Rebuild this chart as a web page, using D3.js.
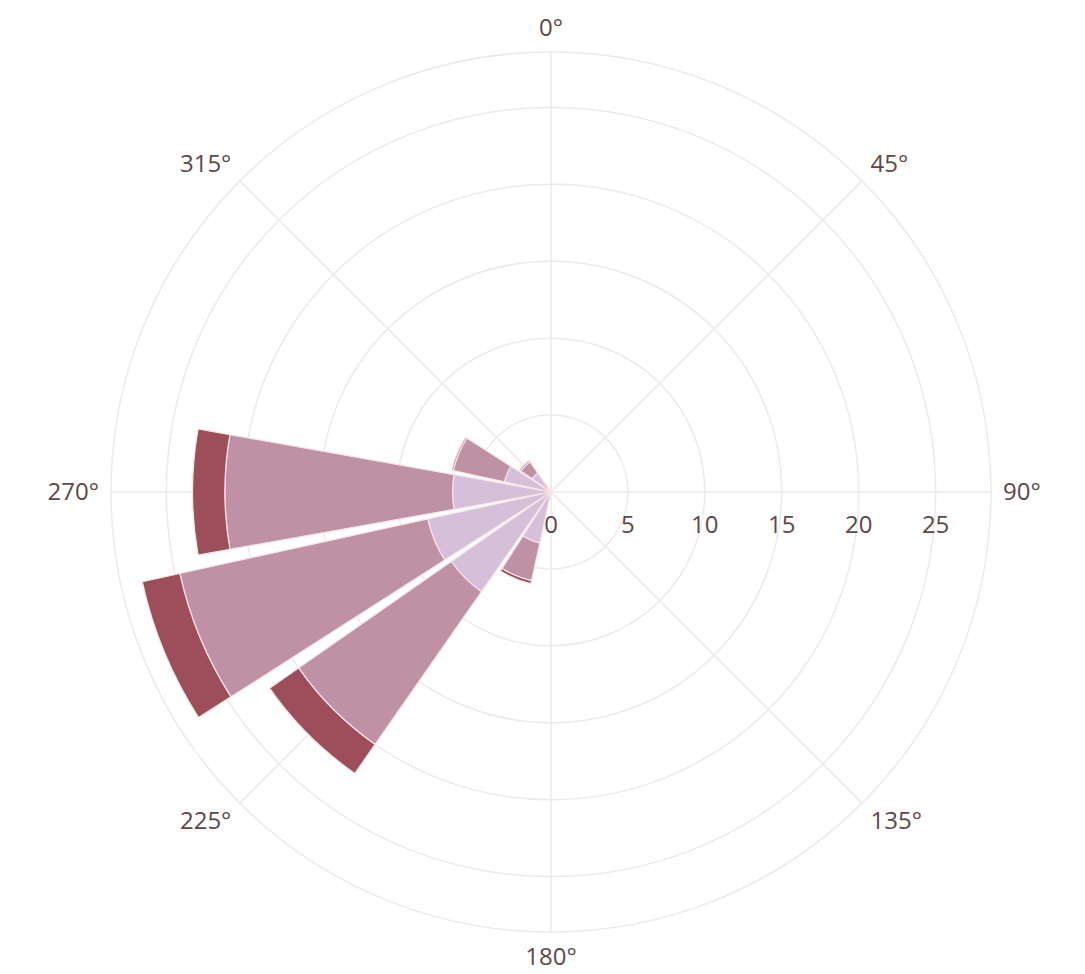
<!DOCTYPE html>
<html>
<head>
<meta charset="utf-8">
<script src="https://cdn.jsdelivr.net/npm/d3@7"></script>
<style>
  body { margin: 0; background: #fff; }
  svg { display: block; font-family: "Open Sans", sans-serif; }
</style>
</head>
<body>
<svg></svg>
<script>
// compass directions (degrees, clockwise from north)
var directions = [0, 22.5, 45, 67.5, 90, 112.5, 135, 157.5, 180, 202.5, 225, 247.5, 270, 292.5, 315, 337.5];

// stacked series, inner to outer
var seriesLight = [0, 0, 0, 0, 0, 0, 0, 0, 0, 3.4, 7.9, 8.2, 6.4, 3.1, 1.5, 0];
var seriesMid   = [0, 0, 0, 0, 0, 0, 0, 0, 0, 2.5, 12.1, 16.5, 14.8, 3.4, 0.9, 0];
var seriesDark  = [0, 0, 0, 0, 0, 0, 0, 0, 0, 0.2, 2.3, 2.5, 2.1, 0.1, 0.1, 0];
var seriesNames = ["light", "mid", "dark"];
var seriesColors = ["#d6bfd8", "#be91a5", "#9c4f5b"];

var radialTicks = [0, 5, 10, 15, 20, 25];
var angularTicks = [0, 45, 90, 135, 180, 225, 270, 315];
var radialMax = 28.6;

var width = 1085, height = 974;
var cx = 551, cy = 492, outerR = 440;
var barGap = 0.1;
var fontSize = 24;

var svg = d3.select("svg")
    .attr("width", width)
    .attr("height", height);

var g = svg.append("g")
    .attr("transform", `translate(${cx},${cy})`);

var r = d3.scaleLinear()
    .domain([0, radialMax])
    .range([0, outerR]);

var gridColor = "#ede9ea";
var textColor = "#5e4848";

// circular grid
g.selectAll(".ring")
    .data(radialTicks.filter(d => d > 0).concat([radialMax]))
    .enter().append("circle")
    .attr("class", "ring")
    .attr("r", d => r(d))
    .attr("fill", "none")
    .attr("stroke", gridColor)
    .attr("stroke-width", 1.5);

// spokes
g.selectAll(".spoke")
    .data(angularTicks)
    .enter().append("line")
    .attr("class", "spoke")
    .attr("x1", 0).attr("y1", 0)
    .attr("x2", d => outerR * Math.sin(d * Math.PI / 180))
    .attr("y2", d => -outerR * Math.cos(d * Math.PI / 180))
    .attr("stroke", gridColor)
    .attr("stroke-width", 1.5);

// build stack table
var rows = directions.map((d, i) => ({
    dir: d,
    light: seriesLight[i],
    mid: seriesMid[i],
    dark: seriesDark[i]
}));

var stacked = d3.stack().keys(seriesNames)(rows);

var step = 360 / directions.length;
var half = step * (1 - barGap) / 2;

var arc = d3.arc()
    .innerRadius(d => r(d[0]))
    .outerRadius(d => r(d[1]))
    .startAngle(d => (d.data.dir - half) * Math.PI / 180)
    .endAngle(d => (d.data.dir + half) * Math.PI / 180);

g.selectAll(".layer")
    .data(stacked)
    .enter().append("g")
    .attr("class", "layer")
    .attr("fill", (d, i) => seriesColors[i])
    .selectAll("path")
    .data(d => d.filter(p => p[1] - p[0] > 0))
    .enter().append("path")
    .attr("d", arc)
    .attr("stroke", "#f8e4e8")
    .attr("stroke-width", 1.2);

// radial tick labels along the east axis
g.selectAll(".rtick")
    .data(radialTicks)
    .enter().append("text")
    .attr("class", "rtick")
    .attr("x", d => r(d))
    .attr("y", 41)
    .attr("text-anchor", "middle")
    .attr("fill", textColor)
    .style("font-size", fontSize + "px")
    .text(d => d);

// angular tick labels
var pad = 12, fontH = 25;
g.selectAll(".atick")
    .data(angularTicks)
    .enter().append("text")
    .attr("class", "atick")
    .attr("x", d => (outerR + pad) * Math.sin(d * Math.PI / 180))
    .attr("y", d => {
        var c = Math.cos(d * Math.PI / 180);
        return -(outerR + pad) * c - 0.5 * fontH * c;
    })
    .attr("dy", "0.35em")
    .attr("text-anchor", d => {
        var s = Math.sin(d * Math.PI / 180);
        return Math.abs(s) < 0.1 ? "middle" : (s > 0 ? "start" : "end");
    })
    .attr("fill", textColor)
    .style("font-size", fontSize + "px")
    .text(d => d + "°");
</script>
</body>
</html>
